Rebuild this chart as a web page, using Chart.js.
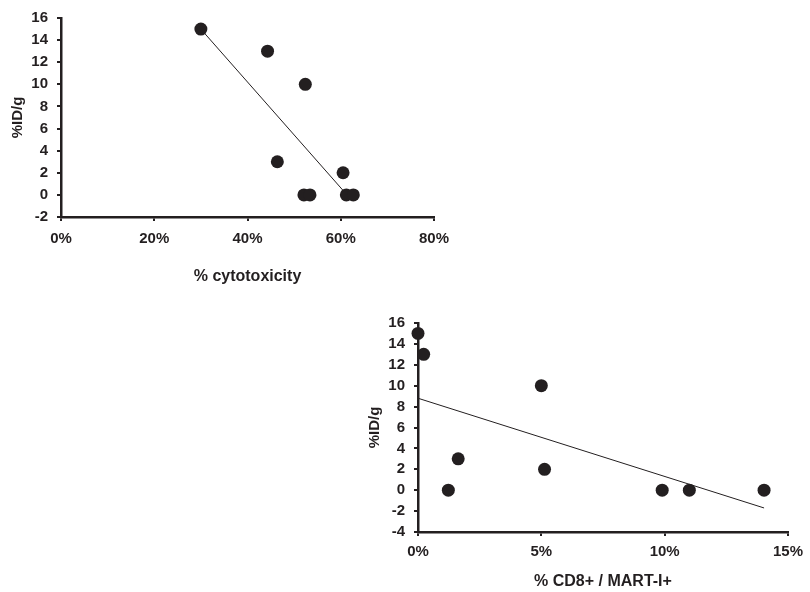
<!DOCTYPE html>
<html>
<head>
<meta charset="utf-8">
<script src="https://cdn.jsdelivr.net/npm/chart.js@4"></script>
<style>
  html, body { margin: 0; padding: 0; background: #ffffff; }
  body { width: 810px; height: 592px; position: relative; overflow: hidden; }
  canvas { position: absolute; }
  #c1 { left: 0px; top: 0px; }
  #c2 { left: 355px; top: 305px; }
</style>
</head>
<body>
<canvas id="c1" width="460" height="295"></canvas>
<canvas id="c2" width="455" height="287"></canvas>
<script>
// Chart 1: %ID/g vs % cytotoxicity
const cytoX = [30, 44.3, 52.4, 46.4, 60.5, 52.1, 53.4, 61.2, 62.7];
const cytoY = [15, 13, 10, 3, 2, 0, 0, 0, 0];
const cytoTrendX = [30.2, 60.5];
const cytoTrendY = [14.9, 0.4];
const cytoXTicks = [0, 20, 40, 60, 80];
const cytoYTicks = [-2, 0, 2, 4, 6, 8, 10, 12, 14, 16];

// Chart 2: %ID/g vs % CD8+ / MART-I+
const cd8X = [0, 0.23, 5.0, 1.63, 1.23, 5.13, 9.9, 11.0, 14.03];
const cd8Y = [15, 13, 10, 3, 0, 2, 0, 0, 0];
const cd8TrendX = [0, 14.03];
const cd8TrendY = [8.8, -1.7];
const cd8XTicks = [0, 5, 10, 15];
const cd8YTicks = [-4, -2, 0, 2, 4, 6, 8, 10, 12, 14, 16];

const INK = '#231f20';
const FONT = "'Liberation Sans', Arial, sans-serif";

function pts(xs, ys) { return xs.map((x, i) => ({ x: x, y: ys[i] })); }

function makeChart(id, cfg) {
  return new Chart(document.getElementById(id), {
    type: 'scatter',
    data: {
      datasets: [
        {
          data: pts(cfg.px, cfg.py),
          pointRadius: 6.5,
          pointHoverRadius: 6.5,
          backgroundColor: INK,
          borderWidth: 0,
          clip: false,
          order: 1
        },
        {
          data: pts(cfg.tx, cfg.ty),
          showLine: true,
          pointRadius: 0,
          borderColor: INK,
          borderWidth: 1,
          fill: false,
          clip: false,
          order: 2
        }
      ]
    },
    options: {
      responsive: false,
      animation: false,
      events: [],
      layout: { padding: cfg.padding },
      plugins: { legend: { display: false }, tooltip: { enabled: false } },
      scales: {
        x: {
          type: 'linear',
          min: cfg.xTicks[0],
          max: cfg.xTicks[cfg.xTicks.length - 1],
          afterBuildTicks: (s) => { s.ticks = cfg.xTicks.map(v => ({ value: v })); },
          afterFit: (s) => { s.height = cfg.xHeight; },
          border: { display: true, color: INK, width: 2.5 },
          grid: { display: true, drawOnChartArea: false, drawTicks: true, tickLength: 4, color: INK, lineWidth: 2 },
          ticks: {
            color: INK,
            padding: cfg.xTickPad,
            maxRotation: 0,
            autoSkip: false,
            font: { family: FONT, size: 15, weight: 'bold' },
            callback: (v) => v + '%'
          },
          title: {
            display: true,
            text: cfg.xTitle,
            color: INK,
            font: { family: FONT, size: 16, weight: 'bold' },
            padding: { top: 0, bottom: cfg.xTitlePad }
          }
        },
        y: {
          type: 'linear',
          min: cfg.yTicks[0],
          max: cfg.yTicks[cfg.yTicks.length - 1],
          afterBuildTicks: (s) => { s.ticks = cfg.yTicks.map(v => ({ value: v })); },
          afterFit: (s) => { s.width = cfg.yWidth; },
          border: { display: true, color: INK, width: 2.5 },
          grid: { display: true, drawOnChartArea: false, drawTicks: true, tickLength: 4, color: INK, lineWidth: 2 },
          ticks: {
            color: INK,
            padding: 9,
            autoSkip: false,
            font: { family: FONT, size: 15, weight: 'bold' }
          },
          title: {
            display: true,
            text: '%ID/g',
            color: INK,
            font: { family: FONT, size: 15, weight: 'bold' },
            padding: { top: cfg.yTitlePad, bottom: 0 }
          }
        }
      }
    }
  });
}

makeChart('c1', {
  px: cytoX, py: cytoY, tx: cytoTrendX, ty: cytoTrendY,
  xTicks: cytoXTicks, yTicks: cytoYTicks,
  xTitle: '% cytotoxicity',
  padding: { top: 16, right: 26, left: 0, bottom: 0 },
  xHeight: 78, yWidth: 61, xTickPad: 9, xTitlePad: 8.4, yTitlePad: 9
});

makeChart('c2', {
  px: cd8X, py: cd8Y, tx: cd8TrendX, ty: cd8TrendY,
  xTicks: cd8XTicks, yTicks: cd8YTicks,
  xTitle: '% CD8+ / MART-I+',
  padding: { top: 18, right: 18, left: 0, bottom: 0 },
  xHeight: 60, yWidth: 63, xTickPad: 7, xTitlePad: 0.4, yTitlePad: 11
});
</script>
</body>
</html>
